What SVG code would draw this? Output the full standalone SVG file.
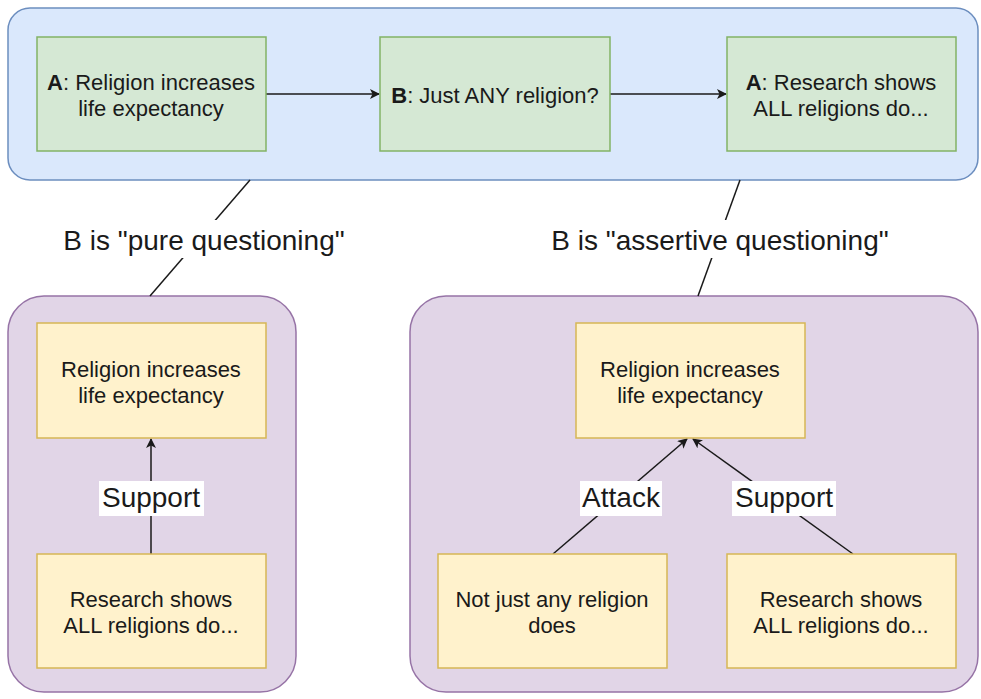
<svg xmlns="http://www.w3.org/2000/svg" width="981" height="699" viewBox="0 0 981 699">
<defs>
<style>
.t{font-family:"Liberation Sans",Arial,sans-serif;font-size:22px;fill:#1a1a1a;text-anchor:middle}
.lb{font-family:"Liberation Sans",Arial,sans-serif;font-size:28px;fill:#1a1a1a;text-anchor:middle}
.g{fill:#d5e8d4;stroke:#82b366;stroke-width:1.5}
.y{fill:#fff2cc;stroke:#d6b656;stroke-width:1.5}
.c{stroke:#1a1a1a;stroke-width:1.5;fill:none}
.bg{fill:#ffffff}
</style>
<marker id="ar" viewBox="0 0 10 10" refX="9" refY="5" markerWidth="10" markerHeight="10" markerUnits="userSpaceOnUse" orient="auto">
<path d="M0,0 L10,5 L0,10 L2.5,5 Z" fill="#1a1a1a"/>
</marker>
</defs>
<rect width="981" height="699" fill="#ffffff"/>
<g id="container-top"><rect x="8" y="8" width="970" height="172" rx="22" fill="#dae8fc" stroke="#6c8ebf" stroke-width="1.5"/></g>
<g id="container-left"><rect x="8" y="296" width="288" height="396" rx="36" fill="#e1d5e7" stroke="#9673a6" stroke-width="1.5"/></g>
<g id="container-right"><rect x="410" y="296" width="568" height="396" rx="36" fill="#e1d5e7" stroke="#9673a6" stroke-width="1.5"/></g>
<g id="connectors">
<line class="c" x1="266" y1="94" x2="379" y2="94" marker-end="url(#ar)"/>
<line class="c" x1="610" y1="94" x2="726" y2="94" marker-end="url(#ar)"/>
<line class="c" x1="250" y1="180" x2="150" y2="296"/>
<line class="c" x1="740" y1="180" x2="698" y2="296"/>
<line class="c" x1="151" y1="554" x2="151" y2="439" marker-end="url(#ar)"/>
<line class="c" x1="553" y1="554" x2="687" y2="439" marker-end="url(#ar)"/>
<line class="c" x1="853" y1="554" x2="693" y2="439" marker-end="url(#ar)"/>
<rect class="bg" x="45" y="220" width="320" height="38"/>
<text class="lb" x="204" y="250">B is "pure questioning"</text>
<rect class="bg" x="538" y="220" width="365" height="38"/>
<text class="lb" x="720" y="250">B is "assertive questioning"</text>
<rect class="bg" x="99" y="481" width="105" height="35"/>
<text class="lb" x="151" y="507">Support</text>
<rect class="bg" x="580" y="481" width="82" height="35"/>
<text class="lb" x="621" y="507">Attack</text>
<rect class="bg" x="732" y="481" width="104" height="35"/>
<text class="lb" x="784" y="507">Support</text>
</g>
<g id="node-a1"><rect class="g" x="37" y="37" width="229" height="114"/>
<text class="t" x="151" y="90"><tspan font-weight="bold">A</tspan>: Religion increases</text>
<text class="t" x="151" y="116">life expectancy</text></g>
<g id="node-b1"><rect class="g" x="380" y="37" width="230" height="114"/>
<text class="t" x="495" y="103"><tspan font-weight="bold">B</tspan>: Just ANY religion?</text></g>
<g id="node-a2"><rect class="g" x="727" y="37" width="229" height="114"/>
<text class="t" x="841" y="90"><tspan font-weight="bold">A</tspan>: Research shows</text>
<text class="t" x="841" y="116">ALL religions do...</text></g>
<g id="node-l-claim"><rect class="y" x="37" y="323" width="229" height="115"/>
<text class="t" x="151" y="377">Religion increases</text>
<text class="t" x="151" y="403">life expectancy</text></g>
<g id="node-l-support"><rect class="y" x="37" y="554" width="229" height="114"/>
<text class="t" x="151" y="607">Research shows</text>
<text class="t" x="151" y="633">ALL religions do...</text></g>
<g id="node-r-claim"><rect class="y" x="576" y="323" width="229" height="115"/>
<text class="t" x="690" y="377">Religion increases</text>
<text class="t" x="690" y="403">life expectancy</text></g>
<g id="node-r-attack"><rect class="y" x="438" y="554" width="229" height="114"/>
<text class="t" x="552" y="607">Not just any religion</text>
<text class="t" x="552" y="633">does</text></g>
<g id="node-r-support"><rect class="y" x="727" y="554" width="229" height="114"/>
<text class="t" x="841" y="607">Research shows</text>
<text class="t" x="841" y="633">ALL religions do...</text></g>
</svg>
